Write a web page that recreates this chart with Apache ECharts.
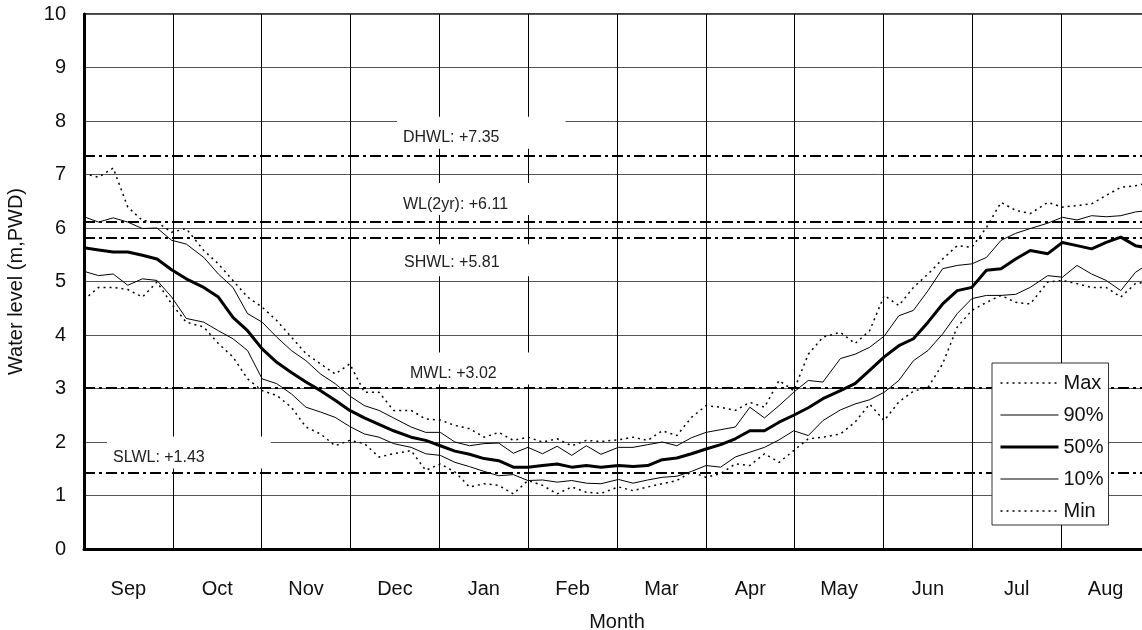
<!DOCTYPE html>
<html>
<head>
<meta charset="utf-8">
<script src="https://cdn.jsdelivr.net/npm/echarts@6/dist/echarts.min.js"></script>
<style>
  html, body { margin: 0; padding: 0; background: #fff; }
  #main { width: 1142px; height: 630px; }
</style>
</head>
<body>
<div id="main"></div>
<script>
// month labels on the x axis
var months = ['Sep', 'Oct', 'Nov', 'Dec', 'Jan', 'Feb', 'Mar', 'Apr', 'May', 'Jun', 'Jul', 'Aug'];

// sample days (from 1 Sep) at which the curves were read
var days = [0, 5, 10, 15, 20, 25, 30, 35, 41, 46, 51, 56, 61, 66, 71, 76, 81, 86, 91, 96,
  101, 106, 112, 117, 122, 127, 132, 137, 142, 147, 152, 157, 162, 167, 172, 177, 183, 188, 193, 198,
  203, 208, 213, 218, 223, 228, 233, 238, 243, 248, 253, 259, 264, 269, 274, 279, 284, 289, 294, 299,
  304, 309, 314, 319, 324, 330, 335, 340, 345, 350, 355, 360, 365];

var maxLevel = [7.02, 6.95, 7.12, 6.39, 6.14, 6.11, 5.92, 5.99, 5.58, 5.33, 5.02, 4.71, 4.52, 4.27, 3.96, 3.65, 3.46, 3.27, 3.46, 2.93,
  2.93, 2.59, 2.59, 2.43, 2.41, 2.31, 2.25, 2.09, 2.18, 2.03, 2.09, 2.00, 2.06, 1.93, 2.03, 2.01, 2.04, 2.09, 2.03, 2.21,
  2.12, 2.46, 2.68, 2.65, 2.59, 2.74, 2.65, 3.15, 2.96, 3.64, 3.96, 4.05, 3.84, 4.08, 4.74, 4.55, 4.89, 5.14, 5.42, 5.67,
  5.64, 6.01, 6.48, 6.33, 6.27, 6.48, 6.39, 6.42, 6.45, 6.61, 6.76, 6.79, 6.85];

var p90 = [6.21, 6.11, 6.19, 6.11, 5.99, 6.00, 5.77, 5.70, 5.45, 5.14, 4.89, 4.40, 4.24, 3.96, 3.71, 3.52, 3.27, 3.09, 2.86, 2.68,
  2.59, 2.45, 2.28, 2.18, 2.18, 2.00, 1.93, 1.97, 1.98, 1.79, 1.90, 1.78, 1.92, 1.75, 1.93, 1.77, 1.90, 1.90, 1.95, 2.00,
  1.93, 2.08, 2.18, 2.23, 2.28, 2.65, 2.45, 2.68, 2.93, 3.15, 3.12, 3.56, 3.64, 3.77, 3.98, 4.36, 4.46, 4.83, 5.24, 5.30,
  5.33, 5.45, 5.77, 5.90, 5.99, 6.09, 6.20, 6.15, 6.23, 6.21, 6.23, 6.30, 6.33];

var p50 = [5.63, 5.59, 5.55, 5.55, 5.49, 5.42, 5.22, 5.05, 4.89, 4.71, 4.33, 4.08, 3.74, 3.49, 3.30, 3.12, 2.96, 2.78, 2.59, 2.45,
  2.33, 2.21, 2.09, 2.03, 1.93, 1.83, 1.77, 1.69, 1.65, 1.53, 1.53, 1.56, 1.59, 1.53, 1.56, 1.53, 1.56, 1.54, 1.56, 1.67,
  1.70, 1.78, 1.87, 1.95, 2.06, 2.21, 2.21, 2.37, 2.50, 2.64, 2.81, 2.96, 3.09, 3.34, 3.59, 3.80, 3.93, 4.24, 4.58, 4.83,
  4.89, 5.21, 5.24, 5.42, 5.58, 5.52, 5.73, 5.67, 5.61, 5.73, 5.83, 5.67, 5.62];

var p10 = [5.19, 5.11, 5.14, 4.93, 5.05, 5.02, 4.71, 4.31, 4.24, 4.08, 3.93, 3.71, 3.18, 3.09, 2.90, 2.65, 2.56, 2.46, 2.29, 2.15,
  2.09, 1.97, 1.90, 1.78, 1.75, 1.62, 1.54, 1.45, 1.37, 1.39, 1.28, 1.29, 1.25, 1.28, 1.23, 1.22, 1.30, 1.23, 1.29, 1.34,
  1.36, 1.45, 1.56, 1.53, 1.72, 1.81, 1.90, 2.04, 2.21, 2.12, 2.40, 2.60, 2.71, 2.79, 2.93, 3.15, 3.52, 3.71, 4.02, 4.40,
  4.68, 4.74, 4.74, 4.76, 4.89, 5.11, 5.08, 5.30, 5.14, 5.02, 4.83, 5.17, 5.35];

var minLevel = [4.66, 4.89, 4.89, 4.85, 4.71, 4.99, 4.58, 4.24, 4.15, 3.84, 3.59, 3.18, 2.96, 2.87, 2.65, 2.28, 2.15, 1.93, 2.03, 1.97,
  1.72, 1.78, 1.84, 1.47, 1.59, 1.44, 1.16, 1.22, 1.19, 1.03, 1.28, 1.19, 1.03, 1.16, 1.06, 1.04, 1.16, 1.09, 1.16, 1.22,
  1.28, 1.44, 1.34, 1.41, 1.59, 1.56, 1.78, 1.62, 1.84, 2.06, 2.09, 2.15, 2.37, 2.71, 2.40, 2.75, 2.95, 3.02, 3.46, 4.15,
  4.46, 4.61, 4.74, 4.61, 4.58, 4.99, 5.02, 4.96, 4.89, 4.89, 4.71, 4.96, 5.00];

// design water levels
var refNames = ['DHWL', 'WL(2yr)', 'SHWL', 'MWL', 'SLWL'];
var refValues = [7.35, 6.11, 5.81, 3.02, 1.43];

// where each level's label box sits (px offset from plot left / line)
var refLabelDx = [309, 309, 310, 316, 19];
var refLabelDy = [-3, -3, 2, 1, 0];
var refLabelPos = ['insideStartTop', 'insideStartTop', 'insideStartBottom', 'insideStartTop', 'insideStartTop'];
var refLabelPad = [[13, 66, 3, 6], [13, 66, 3, 6], [10, 66, 6, 6], [13, 66, 3, 6], [13, 66, 3, 6]];

var font = "'Liberation Sans', Arial, sans-serif";
var none = 'rgba(0,0,0,0)';

function pairs(vals) {
  return days.map(function (d, i) { return [d, vals[i]]; });
}

function curve(name, vals, width, type) {
  return {
    name: name,
    type: 'line',
    xAxisIndex: 1,
    symbol: 'none',
    silent: true,
    data: pairs(vals),
    itemStyle: { color: none, borderWidth: 0 },
    lineStyle: { color: '#000', width: width, type: type }
  };
}

var myChart = echarts.init(document.getElementById('main'));

var option = {
  animation: false,
  backgroundColor: '#fff',
  textStyle: { fontFamily: font },
  grid: {
    left: 84, top: 14, right: -8, bottom: 81,
    outerBoundsMode: 'none',
    show: true, borderColor: '#000', borderWidth: 1.5
  },
  legend: {
    orient: 'vertical',
    left: 992, top: 363,
    z: 10,
    data: ['Max', '90%', '50%', '10%', 'Min'],
    selectedMode: false,
    backgroundColor: '#fff',
    borderColor: '#333', borderWidth: 1, borderRadius: 0,
    padding: [10, 5, 4, 7],
    itemGap: 12, itemWidth: 58, itemHeight: 14,
    itemStyle: { color: none, borderColor: none, borderWidth: 0 },
    lineStyle: { width: 'inherit' },
    textStyle: { fontSize: 20, color: '#111', fontFamily: font }
  },
  xAxis: [{
    type: 'category',
    data: months,
    boundaryGap: true,
    axisLine: { lineStyle: { color: '#000', width: 3 } },
    axisTick: { show: false },
    axisLabel: { fontSize: 20, color: '#111', margin: 30, fontFamily: font },
    splitLine: { show: true, interval: 0, lineStyle: { color: '#000', width: 1 } },
    name: 'Month',
    nameLocation: 'middle',
    nameGap: 63,
    nameTextStyle: { fontSize: 20, color: '#111', fontFamily: font }
  }, {
    type: 'value',
    min: 0, max: 365,
    show: false
  }],
  yAxis: {
    type: 'value',
    min: 0, max: 10, interval: 1,
    axisLine: { show: true, lineStyle: { color: '#000', width: 3 } },
    axisTick: { show: false },
    axisLabel: { fontSize: 20, color: '#111', margin: 18, fontFamily: font },
    splitLine: { lineStyle: { color: '#555', width: 1 } },
    name: 'Water level (m,PWD)',
    nameLocation: 'middle',
    nameGap: 58,
    nameTextStyle: { fontSize: 20, color: '#111', fontFamily: font }
  },
  series: [
    curve('Max', maxLevel, 1.5, [2, 4]),
    curve('90%', p90, 1, 'solid'),
    curve('50%', p50, 3, 'solid'),
    curve('10%', p10, 1, 'solid'),
    curve('Min', minLevel, 1.5, [2, 4]),
    {
      name: 'levels',
      type: 'line',
      xAxisIndex: 1,
      data: [],
      markLine: {
        z: 3,
        silent: true,
        symbol: 'none',
        animation: false,
        lineStyle: { color: '#000', width: 2, type: [11, 4, 3, 4] },
        data: refValues.map(function (v, i) {
          return {
            yAxis: v,
            label: {
              show: true,
              position: refLabelPos[i],
              formatter: refNames[i] + ': +' + v.toFixed(2),
              fontSize: 16,
              color: '#222',
              fontFamily: font,
              backgroundColor: '#fff',
              padding: refLabelPad[i],
              distance: 4,
              offset: [refLabelDx[i], refLabelDy[i]]
            }
          };
        })
      }
    }
  ]
};

myChart.setOption(option);
</script>
</body>
</html>
